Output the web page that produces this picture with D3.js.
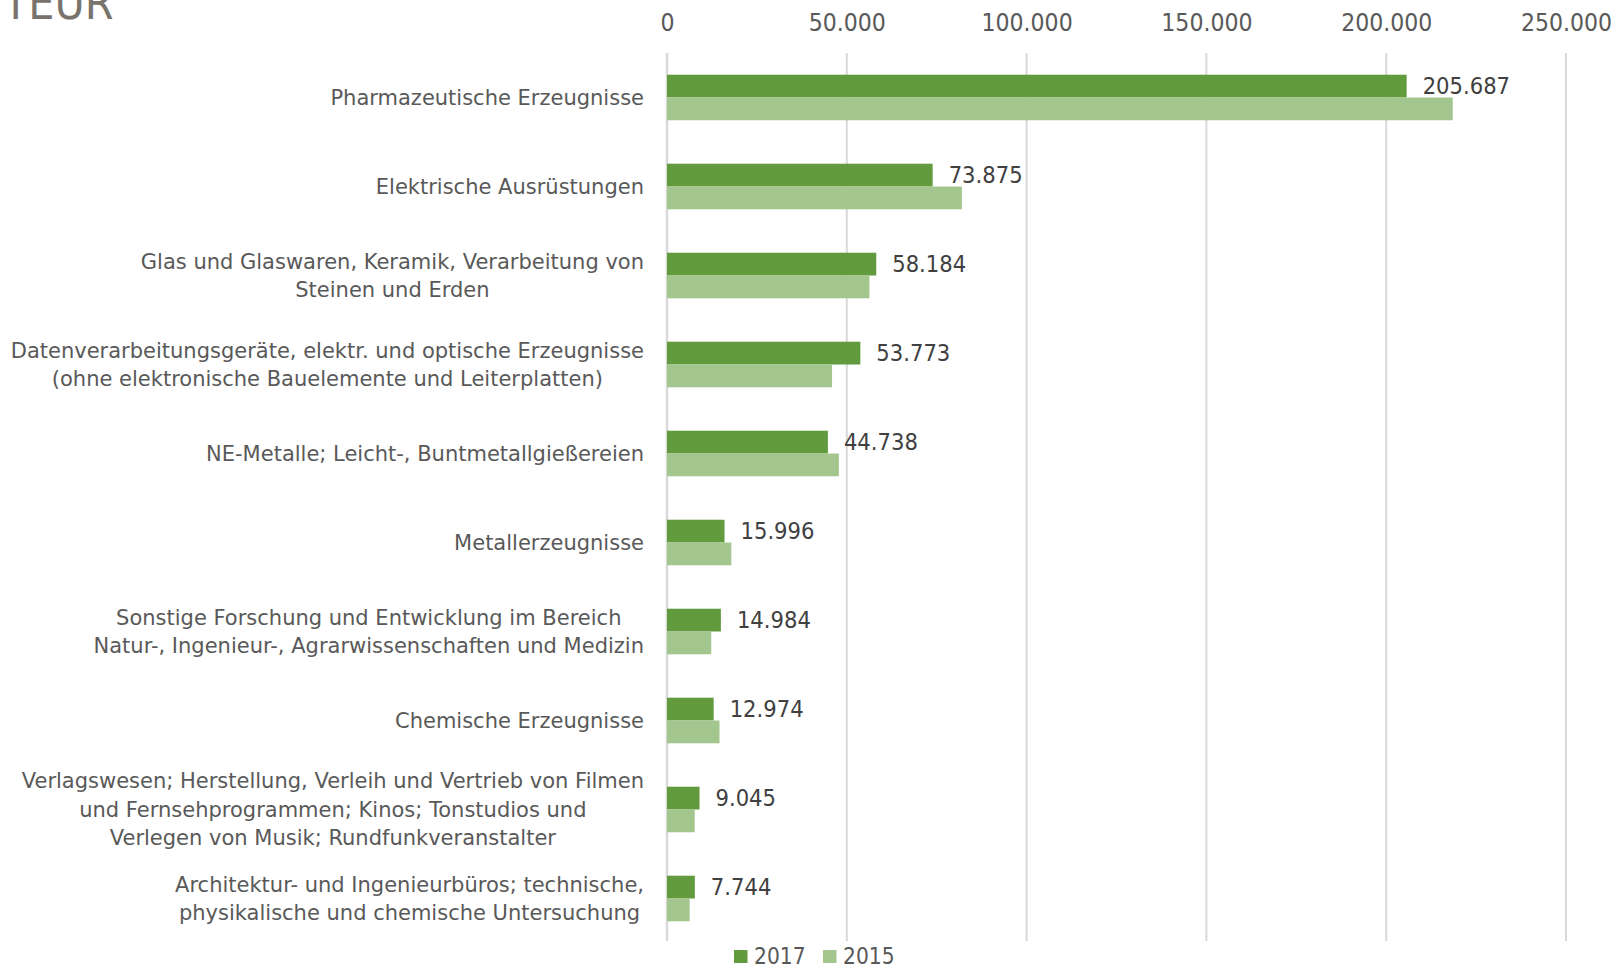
<!DOCTYPE html>
<html>
<head>
<meta charset="utf-8">
<script src="https://cdn.jsdelivr.net/npm/d3@7"></script>
<style>
  body { margin: 0; background: #fff; }
  text { font-family: "DejaVu Sans", sans-serif; }
</style>
</head>
<body>
<div id="chart"></div>
<script>
// chart size = browser window
const width = 1623;
const height = 969;

// categories (line breaks as in the original)
const categories = [
  "Pharmazeutische Erzeugnisse",
  "Elektrische Ausrüstungen",
  "Glas und Glaswaren, Keramik, Verarbeitung von\nSteinen und Erden",
  "Datenverarbeitungsgeräte, elektr. und optische Erzeugnisse\n(ohne elektronische Bauelemente und Leiterplatten)",
  "NE-Metalle; Leicht-, Buntmetallgießereien",
  "Metallerzeugnisse",
  "Sonstige Forschung und Entwicklung im Bereich\nNatur-, Ingenieur-, Agrarwissenschaften und Medizin",
  "Chemische Erzeugnisse",
  "Verlagswesen; Herstellung, Verleih und Vertrieb von Filmen\nund Fernsehprogrammen; Kinos; Tonstudios und\nVerlegen von Musik; Rundfunkveranstalter",
  "Architektur- und Ingenieurbüros; technische,\nphysikalische und chemische Untersuchung"
];
const series = ["2017", "2015"];
const values2017 = [205687, 73875, 58184, 53773, 44738, 15996, 14984, 12974, 9045, 7744];
const values2015 = [218500, 82000, 56300, 45900, 47800, 17900, 12300, 14600, 7700, 6300];
const xTicks = [0, 50000, 100000, 150000, 200000, 250000];
const unitLabel = "TEUR";

const colors = {"2017": "#629a3e", "2015": "#a3c68f"};
const condensed = "'DejaVu Sans Condensed', sans-serif";

// german number format: 50.000
const de = d3.formatLocale({decimal: ",", thousands: ".", grouping: [3], currency: ["", " €"]});
const fmt = de.format(",d");

const svg = d3.select("#chart")
  .append("svg")
  .attr("width", width)
  .attr("height", height);

const x = d3.scaleLinear()
  .domain([0, 250000])
  .range([667, 1566]);

const y0 = d3.scaleBand()
  .domain(categories)
  .range([53, 943]);

const y1 = d3.scaleBand()
  .domain(series)
  .range([y0.bandwidth() * 0.244, y0.bandwidth() * 0.756]);

// unit label, cut off at the top like in the original
svg.append("text")
  .attr("x", 3)
  .attr("y", 19)
  .style("font-family", condensed)
  .style("font-size", "46px")
  .style("fill", "#78736c")
  .text(unitLabel);

// gridlines
svg.append("g")
  .selectAll("line")
  .data(xTicks)
  .enter()
  .append("line")
  .attr("x1", d => x(d))
  .attr("x2", d => x(d))
  .attr("y1", 53)
  .attr("y2", 941)
  .attr("stroke", "#d9d9d9")
  .attr("stroke-width", d => d === 0 ? 2.5 : 2);

// top axis labels
const axis = svg.append("g")
  .attr("transform", "translate(0,22)")
  .call(d3.axisTop(x).tickValues(xTicks).tickSize(0).tickPadding(0).tickFormat(fmt));
axis.select(".domain").remove();
axis.selectAll("text")
  .attr("dy", "0.35em")
  .style("font-family", condensed)
  .style("font-size", "24.5px")
  .style("fill", "#595959");

// bars
const rows = categories.map((c, i) => ({cat: c, v: {"2017": values2017[i], "2015": values2015[i]}}));

const groups = svg.append("g")
  .selectAll("g")
  .data(rows)
  .enter()
  .append("g")
  .attr("transform", d => "translate(0," + y0(d.cat) + ")");

groups.selectAll("rect")
  .data(d => series.map(s => ({s: s, v: d.v[s]})))
  .enter()
  .append("rect")
  .attr("x", x(0))
  .attr("y", d => y1(d.s))
  .attr("width", d => x(d.v) - x(0))
  .attr("height", y1.bandwidth())
  .style("fill", d => colors[d.s]);

// data labels for 2017
groups.append("text")
  .attr("x", d => x(d.v["2017"]) + 16)
  .attr("y", y1("2017") + y1.bandwidth() / 2)
  .attr("dy", "0.35em")
  .style("font-family", condensed)
  .style("font-size", "23.5px")
  .style("fill", "#404040")
  .text(d => fmt(d.v["2017"]));

// category labels: block right aligned, lines centred inside block
const labelRight = 644;
const lineH = 28.5;
groups.each(function (d) {
  const g = d3.select(this);
  const lines = d.cat.split("\n");
  const t = g.append("text")
    .style("font-size", "21px")
    .style("fill", "#595959")
    .attr("text-anchor", "middle");
  const spans = lines.map((l, k) => t.append("tspan")
    .attr("y", y0.bandwidth() / 2 + (k - (lines.length - 1) / 2) * lineH)
    .attr("dy", "0.35em")
    .text(l));
  const w = d3.max(spans, s => s.node().getComputedTextLength());
  spans.forEach(s => s.attr("x", labelRight - w / 2));
});

// legend
const legend = svg.append("g")
  .selectAll("g")
  .data(series)
  .enter()
  .append("g")
  .attr("transform", (d, i) => "translate(" + (734 + i * 89) + ",950)");

legend.append("rect")
  .attr("width", 13.5)
  .attr("height", 13)
  .style("fill", d => colors[d]);

legend.append("text")
  .attr("x", 20)
  .attr("y", 6.5)
  .attr("dy", "0.35em")
  .style("font-family", condensed)
  .style("font-size", "22.5px")
  .style("fill", "#595959")
  .text(d => d);
</script>
</body>
</html>
